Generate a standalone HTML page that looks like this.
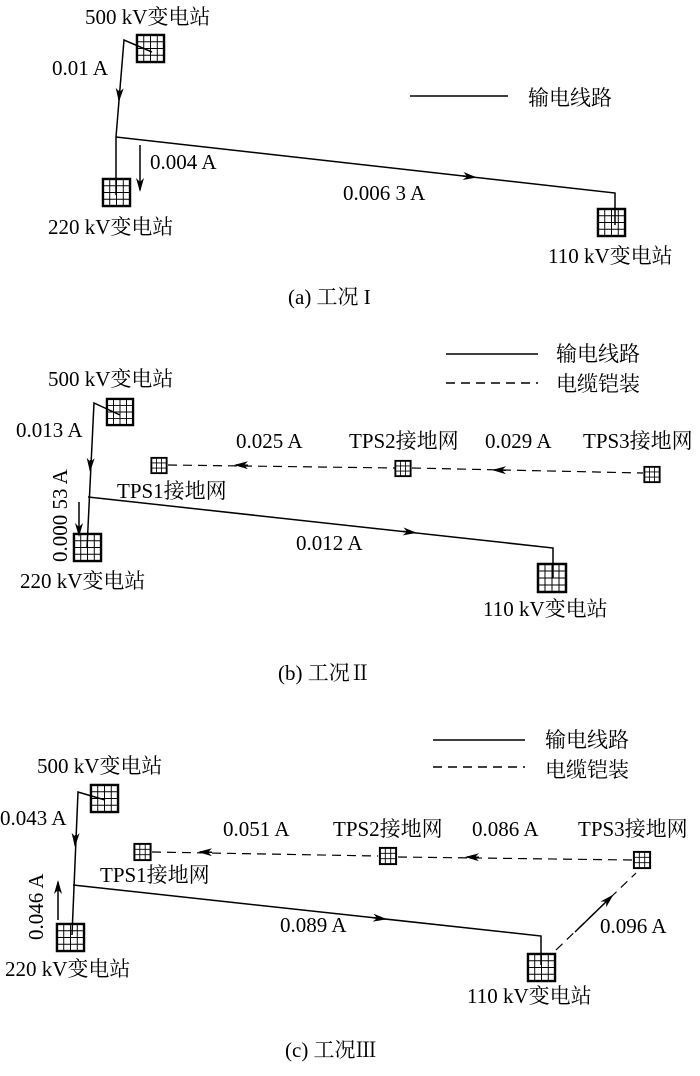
<!DOCTYPE html>
<html><head><meta charset="utf-8"><style>
body{margin:0;background:#fff;}
svg{display:block;}
text{font-family:"Liberation Serif","Noto Serif CJK SC","Noto Sans CJK SC",serif;font-size:21px;fill:#000;}
</style></head><body>
<svg width="700" height="1076" viewBox="0 0 700 1076" xmlns="http://www.w3.org/2000/svg">
<defs>
<symbol id="S" viewBox="0 0 30 30" overflow="visible">
<rect x="1" y="1" width="28" height="28" fill="#fff" stroke="#000" stroke-width="2.5"/>
<path d="M8 1V29M15 1V29M22 1V29M1 8H29M1 15H29M1 22H29" stroke="#000" stroke-width="1"/>
</symbol>
<symbol id="T" viewBox="0 0 20 20" overflow="visible">
<rect x="1" y="1" width="18" height="18" fill="#fff" stroke="#000" stroke-width="2.2"/>
<path d="M7 1V19M13 1V19M1 7H19M1 13H19" stroke="#000" stroke-width="1"/>
</symbol>
<marker id="a" markerWidth="14" markerHeight="8" refX="12" refY="4" orient="auto" markerUnits="userSpaceOnUse">
<path d="M0 0L14 4L0 8L4 4Z" fill="#000"/>
</marker>
</defs>
<!-- boxes -->
<use href="#S" x="136" y="34" width="29" height="29"/>
<use href="#S" x="102" y="178" width="29" height="29"/>
<use href="#S" x="597" y="208" width="29" height="29"/>
<use href="#S" x="106" y="398" width="28" height="28"/>
<use href="#S" x="73" y="533" width="29" height="29"/>
<use href="#S" x="537" y="563" width="30" height="30"/>
<use href="#T" x="150" y="457" width="18" height="17"/>
<use href="#T" x="394" y="460" width="18" height="17"/>
<use href="#T" x="643" y="466" width="18" height="17"/>
<use href="#S" x="90" y="784" width="29" height="29"/>
<use href="#S" x="56" y="923" width="29" height="29"/>
<use href="#S" x="527" y="950" width="29" height="35"/>
<use href="#T" x="133" y="843" width="19" height="18"/>
<use href="#T" x="378" y="847" width="20" height="18"/>
<use href="#T" x="632" y="851" width="20" height="18"/>
<g stroke="#000" stroke-width="1.5" fill="none">
<!-- panel a -->
<path d="M152 52L124 40L116 137L116 195"/>
<path d="M119.6 90L119 100" marker-end="url(#a)"/>
<path d="M116 137L615 193L615 225"/>
<path d="M463 176L475 177.3" marker-end="url(#a)"/>
<path d="M140 145L140 190" marker-end="url(#a)"/>
<path d="M410 96H508"/>
<!-- panel b -->
<path d="M120 415L94 403L87 548"/>
<path d="M90.6 460L90.1 470" marker-end="url(#a)"/>
<path d="M88 497L553 548L553 578"/>
<path d="M403 531.4L415 532.7" marker-end="url(#a)"/>
<path d="M79 502L79 535" marker-end="url(#a)"/>
<path d="M446 354H538"/>
<path d="M446 383H538" stroke-dasharray="9,6"/>
<path d="M168 465L395 468M412 468L643 473" stroke-dasharray="9,6" stroke-width="1.2"/>
<path d="M248 465.2L236 465" marker-end="url(#a)"/>
<path d="M506 470.2L494 470" marker-end="url(#a)"/>
<!-- panel c -->
<path d="M105 800L78 792L72 935"/>
<path d="M75.5 835L75 845" marker-end="url(#a)"/>
<path d="M73 885L541 936L541 965"/>
<path d="M373 917.7L385 919" marker-end="url(#a)"/>
<path d="M58 920L58 882" marker-end="url(#a)"/>
<path d="M433 740H525"/>
<path d="M433 767H525" stroke-dasharray="9,6"/>
<path d="M152 852L378 856M398 857L632 860" stroke-dasharray="9,6" stroke-width="1.2"/>
<path d="M212 852.2L200 852" marker-end="url(#a)"/>
<path d="M479 857.2L467 857" marker-end="url(#a)"/>
<path d="M556 950L636 873" stroke-dasharray="9,6" stroke-width="1.2"/>
<path d="M575 932L612 896" marker-end="url(#a)"/>
</g>
<!-- text a -->
<text x="85" y="24">500 kV变电站</text>
<text x="52" y="75">0.01 A</text>
<text x="150" y="169">0.004 A</text>
<text x="48" y="234">220 kV变电站</text>
<text x="343" y="200">0.006 3 A</text>
<text x="528" y="105">输电线路</text>
<text x="548" y="263">110 kV变电站</text>
<text x="288" y="304">(a) 工况 I</text>
<!-- text b -->
<text x="556" y="361">输电线路</text>
<text x="556" y="391">电缆铠装</text>
<text x="48" y="386">500 kV变电站</text>
<text x="16" y="437">0.013 A</text>
<text transform="translate(67,562) rotate(-90)">0.000 53 A</text>
<text x="20" y="588">220 kV变电站</text>
<text x="296" y="550">0.012 A</text>
<text x="117" y="498">TPS1接地网</text>
<text x="349" y="448">TPS2接地网</text>
<text x="583" y="448">TPS3接地网</text>
<text x="236" y="448">0.025 A</text>
<text x="485" y="448">0.029 A</text>
<text x="483" y="616">110 kV变电站</text>
<text x="278" y="680">(b) 工况Ⅱ</text>
<!-- text c -->
<text x="545" y="747">输电线路</text>
<text x="545" y="777">电缆铠装</text>
<text x="37" y="773">500 kV变电站</text>
<text x="0" y="825">0.043 A</text>
<text transform="translate(43,940) rotate(-90)">0.046 A</text>
<text x="5" y="976">220 kV变电站</text>
<text x="280" y="932">0.089 A</text>
<text x="100" y="882">TPS1接地网</text>
<text x="223" y="836">0.051 A</text>
<text x="333" y="836">TPS2接地网</text>
<text x="472" y="836">0.086 A</text>
<text x="578" y="836">TPS3接地网</text>
<text x="600" y="933">0.096 A</text>
<text x="467" y="1003">110 kV变电站</text>
<text x="285" y="1057">(c) 工况Ⅲ</text>
</svg>
</body></html>
